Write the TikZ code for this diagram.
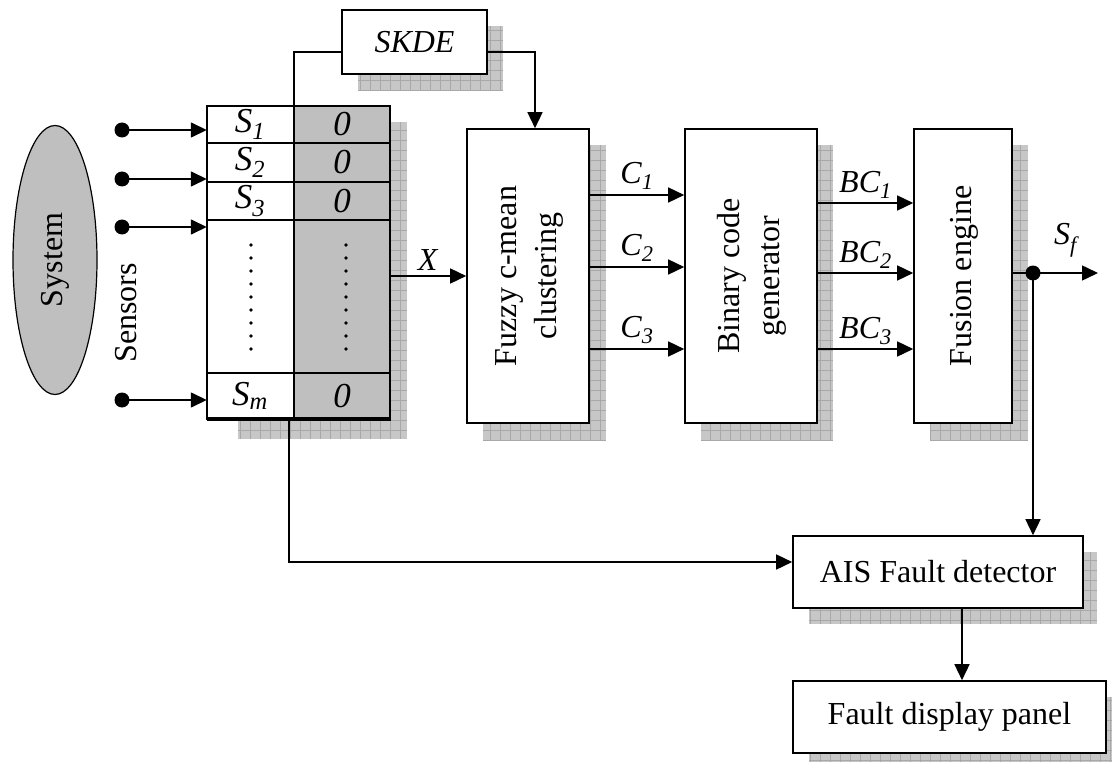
\documentclass[tikz,border=0pt]{standalone}
\usepackage{fontspec}
\setmainfont{Liberation Serif}
\usetikzlibrary{arrows.meta,shapes.geometric,positioning,calc}

\tikzset{
  block/.style={draw, line width=1.6pt, fill=white, inner sep=0pt, align=center},
  arr/.style={-{Triangle[length=16pt,width=15pt]}, line width=1.5pt},
  wire/.style={line width=1.5pt},
  cell/.style={font=\fontsize{35}{40}\selectfont},
  shadowfill/.style={fill=black!22},
  shadowgrid/.style={draw=black!34, line width=0.6pt, step=10pt},
  pin/.style={circle, fill, inner sep=0pt, minimum size=15pt},
}
\newcommand{\shadowrect}[4]{%
  \fill[shadowfill] (#1,#2) rectangle (#3,#4);
  \draw[shadowgrid] (#1,#2) grid (#3,#4);}
\newcommand{\vtext}[1]{\rotatebox{90}{\begin{tabular}{@{}c@{}}#1\end{tabular}}}

\begin{document}
\begin{tikzpicture}[x=1pt, y=-1pt, font=\fontsize{32}{40}\selectfont]
\useasboundingbox (0,0) rectangle (1112,765);

% shadows
\shadowrect{358}{26}{503}{91}
\shadowrect{238}{122}{407}{439}
\shadowrect{483}{145}{606}{440}
\shadowrect{701}{145}{833}{440}
\shadowrect{930}{145}{1028}{440}
\shadowrect{809}{552}{1097}{624}
\shadowrect{809}{697}{1112}{762}

% system and sensors
\node[draw, ellipse, line width=1.2pt, fill=black!25, inner sep=0pt,
      minimum width=84pt, minimum height=269pt] (sys) at (55,260) {\rotatebox{90}{System}};
\node (sens) at (126,313) {\rotatebox{90}{Sensors}};

% sensor table
\node[fill=white, inner sep=0pt, minimum width=183pt, minimum height=313pt] (tab) at (298.5,262.5) {};
\fill[black!25] (294,106) rectangle (390,419);
\draw[line width=1.6pt] (tab.north west) rectangle (tab.south east);
\draw[line width=1.6pt] (294,106) -- (294,419);
\foreach \r in {143,182,220,373}
  \draw[line width=1.6pt] (207,\r) -- (390,\r);
\draw[line width=4pt] (207,419) -- (391,419);

\node[cell] (s1) at (250,124.5) {\textit{S\textsubscript{1}}};
\node[cell] (s2) at (250,162.5) {\textit{S\textsubscript{2}}};
\node[cell] (s3) at (250,201) {\textit{S\textsubscript{3}}};
\node[cell] (sm) at (250,396) {\textit{S\textsubscript{m}}};
\node[cell] (z1) at (342,124.5) {\textit{0}};
\node[cell] (z2) at (342,162.5) {\textit{0}};
\node[cell] (z3) at (342,201) {\textit{0}};
\node[cell] (zm) at (342,396) {\textit{0}};
\foreach \k in {0,...,8} {
  \fill (251,245+13*\k) circle (1.8pt);
  \fill (346,245+13*\k) circle (1.8pt);
}

\foreach \y/\n in {130/1,179/2,227/3,400/4} {
  \node[pin] (p\n) at (122,\y) {};
  \draw[arr] (p\n.center) -- (p\n -| tab.west);
}

% processing blocks
\node[block, minimum width=145pt, minimum height=64pt] (skde) at (414.5,42) {\textit{SKDE}};
\node[block, minimum width=122pt, minimum height=294pt] (fcm) at (528,276) {\vtext{Fuzzy c-mean\\clustering}};
\node[block, minimum width=132pt, minimum height=294pt] (bcg) at (751,276) {\vtext{Binary code\\generator}};
\node[block, minimum width=98pt, minimum height=294pt] (fus) at (963,276) {\vtext{Fusion engine}};
\node[block, minimum width=290pt, minimum height=72pt] (ais) at (938,572) {AIS Fault detector};
\node[block, minimum width=313pt, minimum height=72pt] (fdp) at (949.5,717) {Fault display panel};

% connectors
\draw[wire] (tab.north -| 294,0) |- (skde.west |- 0,52);
\draw[arr] (skde.east |- 0,52) -| (fcm.north -| 535,0);
\draw[arr] (tab.east |- 0,276) -- (fcm.west |- 0,276) node[midway, above=1pt] {\textit{X}};

\draw[arr] (fcm.east |- 0,195) -- (bcg.west |- 0,195) node[midway, above=1pt] {\textit{C\textsubscript{1}}};
\draw[arr] (fcm.east |- 0,267) -- (bcg.west |- 0,267) node[midway, above=1pt] {\textit{C\textsubscript{2}}};
\draw[arr] (fcm.east |- 0,349) -- (bcg.west |- 0,349) node[midway, above=1pt] {\textit{C\textsubscript{3}}};

\draw[arr] (bcg.east |- 0,203) -- (fus.west |- 0,203) node[midway, above=0pt] {\textit{BC\textsubscript{1}}};
\draw[arr] (bcg.east |- 0,273) -- (fus.west |- 0,273) node[midway, above=0pt] {\textit{BC\textsubscript{2}}};
\draw[arr] (bcg.east |- 0,349) -- (fus.west |- 0,349) node[midway, above=0pt] {\textit{BC\textsubscript{3}}};

\node[pin] (sfd) at (1033,273) {};
\coordinate (sfo) at (1098,273);
\draw[wire] (fus.east |- sfd) -- (sfd.center);
\draw[arr] (sfd.center) -- (sfo) node[midway, above=12pt] {\textit{S\textsubscript{f}}};
\draw[arr] (sfd.center) -- (sfd |- ais.north);

\draw[arr] (tab.south -| 289,0) |- (ais.west |- 0,562);
\draw[arr] (ais.south -| 962,0) -- (fdp.north -| 962,0);
\end{tikzpicture}
\end{document}
